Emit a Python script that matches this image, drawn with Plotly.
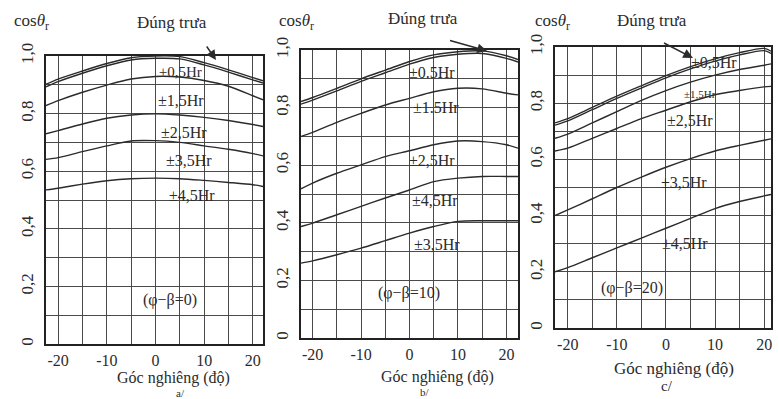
import plotly.graph_objects as go

# ---------------- data ----------------
X_A = [-22.5, -20, -15, -10, -5, 0, 5, 10, 15, 20, 22.1]
A_NOON = [0.902, 0.92, 0.948, 0.974, 0.994, 1.0, 0.998, 0.977, 0.952, 0.925, 0.914]
A_H05 = [0.893, 0.911, 0.94, 0.966, 0.986, 0.992, 0.99, 0.969, 0.944, 0.917, 0.906]
A_H15 = [0.828, 0.845, 0.874, 0.899, 0.92, 0.929, 0.927, 0.915, 0.895, 0.862, 0.848]
A_H25 = [0.73, 0.741, 0.764, 0.784, 0.795, 0.799, 0.795, 0.787, 0.776, 0.762, 0.755]
A_H35 = [0.641, 0.647, 0.668, 0.688, 0.705, 0.706, 0.70, 0.688, 0.676, 0.661, 0.653]
A_H45 = [0.535, 0.541, 0.555, 0.567, 0.574, 0.576, 0.574, 0.568, 0.561, 0.553, 0.547]

X_B = [-22.4, -20, -15, -10, -5, 0, 5, 10, 15, 20, 22.4]
B_NOON = [0.821, 0.835, 0.867, 0.90, 0.93, 0.96, 0.983, 0.994, 0.997, 0.98, 0.967]
B_H05 = [0.812, 0.826, 0.858, 0.891, 0.921, 0.951, 0.974, 0.985, 0.988, 0.971, 0.958]
B_H15 = [0.70, 0.714, 0.749, 0.78, 0.809, 0.832, 0.855, 0.867, 0.865, 0.85, 0.844]
B_H25 = [0.518, 0.538, 0.572, 0.601, 0.63, 0.65, 0.671, 0.684, 0.682, 0.671, 0.659]
B_C4 = [0.387, 0.399, 0.428, 0.457, 0.486, 0.514, 0.543, 0.555, 0.561, 0.561, 0.561]
B_C5 = [0.26, 0.268, 0.289, 0.312, 0.338, 0.364, 0.387, 0.405, 0.407, 0.407, 0.407]

X_C = [-22.6, -20, -15, -10, -5, 0, 5, 10, 15, 20, 21.4]
C_NOON = [0.73, 0.745, 0.785, 0.825, 0.862, 0.898, 0.93, 0.958, 0.98, 0.995, 0.985]
C_H05 = [0.722, 0.737, 0.777, 0.817, 0.854, 0.89, 0.922, 0.95, 0.972, 0.987, 0.977]
C_H15 = [0.675, 0.69, 0.73, 0.77, 0.81, 0.845, 0.875, 0.9, 0.92, 0.935, 0.94]
C_H25 = [0.63, 0.64, 0.675, 0.71, 0.745, 0.775, 0.805, 0.83, 0.845, 0.858, 0.86]
C_H35 = [0.40, 0.42, 0.46, 0.50, 0.537, 0.572, 0.603, 0.63, 0.65, 0.668, 0.673]
C_H45 = [0.20, 0.215, 0.25, 0.285, 0.32, 0.355, 0.39, 0.425, 0.45, 0.47, 0.475]

X_TICKS = [-20, -10, 0, 10, 20]
X_TICKTEXT = ["-20", "-10", "0", "10", "20"]
Y_TICKS = [0, 0.2, 0.4, 0.6, 0.8, 1.0]
Y_TICKTEXT = ["0", "0,2", "0,4", "0,6", "0,8", "1,0"]

X_TITLE = "Góc nghiêng (độ)"
NOON_TEXT = "Đúng trưa"
COS_TEXT = "cos<i>θ</i><sub>r</sub>"

# ---------------- styling ----------------
W, H = 779, 399
FONT = "Liberation Serif"
INK = "#2b2b2b"
GRID = "#4a4a4a"


def px(x, y):
    return x / W, 1 - y / H


fig = go.Figure()

panels = [
    ("x", "y", X_A, [A_NOON, A_H05, A_H15, A_H25, A_H35, A_H45]),
    ("x2", "y2", X_B, [B_NOON, B_H05, B_H15, B_H25, B_C4, B_C5]),
    ("x3", "y3", X_C, [C_NOON, C_H05, C_H15, C_H25, C_H35, C_H45]),
]
for xa, ya, xs, series in panels:
    for s in series:
        fig.add_trace(go.Scatter(
            x=xs, y=s, xaxis=xa, yaxis=ya, mode="lines",
            line=dict(color=INK, width=1.4, shape="spline", smoothing=0.8),
            showlegend=False, hoverinfo="skip"))

# panel geometry in pixels (left, right, top, bottom)
geo = [(46, 263, 56, 344), (301, 518, 50, 338), (555, 771, 47, 328)]
xranges = [[X_A[0], X_A[-1]], [X_B[0], X_B[-1]], [X_C[0], X_C[-1]]]

xtick_font = dict(family=FONT, size=16, color=INK)
ytick_font = dict(family=FONT, size=17, color=INK)
layout = dict(
    width=W, height=H, margin=dict(l=0, r=0, t=0, b=0),
    paper_bgcolor="white", plot_bgcolor="white", showlegend=False,
    font=dict(family=FONT, color=INK),
)
for i, (l, r, t, b) in enumerate(geo):
    sfx = "" if i == 0 else str(i + 1)
    layout["xaxis" + sfx] = dict(
        domain=[l / W, r / W], range=xranges[i], anchor="y" + sfx,
        tickmode="array", tickvals=X_TICKS, ticktext=X_TICKTEXT,
        ticks="", ticklabelstandoff=1,
        showgrid=True, gridcolor=GRID, gridwidth=1.2,
        minor=dict(dtick=5, tick0=0, showgrid=True, gridcolor=GRID, gridwidth=1.2),
        showline=True, mirror=True, linecolor="#222", linewidth=2,
        zeroline=False, tickfont=xtick_font, automargin=False, fixedrange=True,
    )
    layout["yaxis" + sfx] = dict(
        domain=[1 - b / H, 1 - t / H], range=[0, 1.0], anchor="x" + sfx,
        tickmode="array", tickvals=Y_TICKS, ticktext=Y_TICKTEXT,
        tickangle=-90, ticks="", ticklabelstandoff=4,
        showgrid=True, gridcolor=GRID, gridwidth=1.2,
        minor=dict(dtick=0.1, tick0=0, showgrid=True, gridcolor=GRID, gridwidth=1.2),
        showline=True, mirror=True, linecolor="#222", linewidth=2,
        zeroline=False, tickfont=ytick_font, automargin=False, fixedrange=True,
    )
fig.update_layout(**layout)

ann = []


def text(x, y, s, size=16):
    ax_, ay_ = px(x, y)
    ann.append(dict(x=ax_, y=ay_, xref="paper", yref="paper", text=s,
                    showarrow=False, font=dict(family=FONT, size=size, color=INK),
                    xanchor="center", yanchor="middle"))


def arrow(hx, hy, tx, ty):
    ax_, ay_ = px(hx, hy)
    ann.append(dict(x=ax_, y=ay_, xref="paper", yref="paper", text=" ",
                    showarrow=True, arrowhead=2, arrowsize=1.3, arrowwidth=1.5,
                    arrowcolor=INK, ax=tx - hx, ay=ty - hy, standoff=0,
                    font=dict(size=2)))


# headers
for cx, nx, ny in [(32, 172, 22), (296, 423, 18), (552, 652, 20)]:
    text(cx, 22, COS_TEXT, 17)
    text(nx, ny, NOON_TEXT, 17)
arrow(216, 60, 205, 44)
arrow(487, 51, 448, 40)
arrow(693, 58, 662, 42)

# curve labels
text(180, 72, "±0,5Hr", 15)
text(181, 100, "±1,5Hr", 16)
text(184, 133, "±2,5Hr", 16)
text(189, 160, "±3,5Hr", 16)
text(192, 195, "±4,5Hr", 16)
text(170, 300, "(φ−β=0)", 16)

text(432, 72, "±0.5Hr", 16)
text(436, 107, "±1.5Hr", 16)
text(432, 160, "±2,5Hr", 16)
text(435, 200, "±4,5Hr", 16)
text(437, 244, "±3,5Hr", 16)
text(409, 293, "(φ−β=10)", 16)

text(714, 62, "±0,5Hr", 16)
text(700, 94, "±1,5Hr", 11)
text(690, 120, "±2,5Hr", 16)
text(684, 182, "±3,5Hr", 16)
text(685, 243, "±4,5Hr", 16)
text(632, 288, "(φ−β=20)", 16)

# axis titles and sub-figure labels
text(173, 378, X_TITLE, 16)
text(437, 377, X_TITLE, 16)
text(674, 368, X_TITLE, 17)
text(180, 393, "a/", 11)
text(425, 392, "b/", 11)
text(667, 386, "c/", 15)

fig.update_layout(annotations=ann)
fig.write_html("out.html")
